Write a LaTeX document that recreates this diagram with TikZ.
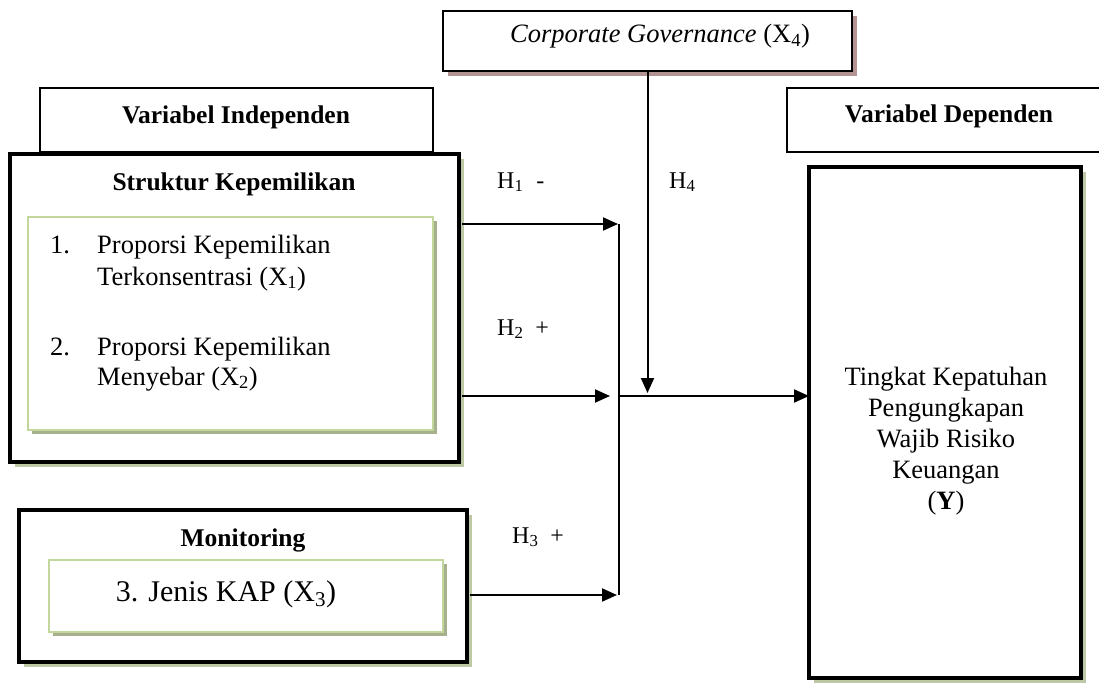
\documentclass[tikz,border=0pt]{standalone}
\usepackage{fontspec}
\setmainfont{Liberation Serif}
\usetikzlibrary{arrows.meta,shadows}
\definecolor{boxgreen}{HTML}{C3D69B}
\definecolor{greenshade}{HTML}{A6B08C}
\definecolor{paleshade}{HTML}{BFC8A6}
\definecolor{roseshade}{HTML}{B39494}

\begin{document}
\begin{tikzpicture}[x=1pt,y=-1pt,
  frame/.style={draw, line width=1.8pt, fill=white, inner sep=0pt, outer sep=0pt},
  heavy/.style={draw, line width=4pt, fill=white, inner sep=0pt, outer sep=0pt},
  itembox/.style={draw=boxgreen, line width=2pt, fill=white, inner sep=0pt, outer sep=0pt},
  shade/.style={drop shadow={shadow xshift=#1, shadow yshift=-#1, fill=paleshade, opacity=1}},
  greenshadow/.style={drop shadow={shadow xshift=4pt, shadow yshift=-4pt, fill=greenshade, opacity=1}},
  roseshadow/.style={drop shadow={shadow xshift=5pt, shadow yshift=-5pt, fill=roseshade, opacity=1}},
  bodytxt/.style={inner sep=0pt, font=\fontsize{26.5}{31}\selectfont},
  headtxt/.style={inner sep=0pt, font=\fontsize{25.5}{30}\selectfont\bfseries},
  bigtxt/.style={inner sep=0pt, font=\fontsize{30}{34}\selectfont},
  hyptxt/.style={inner sep=0pt, font=\fontsize{24}{28}\selectfont, anchor=base west},
  arr/.style={line width=2pt, -{Triangle[length=15pt,width=13pt]}},
]
\useasboundingbox (0,0) rectangle (1099,682);

% moderating variable
\node[frame, roseshadow, minimum width=409pt, minimum height=60pt] (cg) at (647.5,41) {};
\node[bodytxt, anchor=base] (cgtxt) at (660,43) {\textit{Corporate Governance} (X\textsubscript{4})};

% independent side
\node[frame, minimum width=393pt, minimum height=64pt] (vi) at (236.5,120) {};
\node[headtxt, anchor=base] (vitxt) at (236,124) {Variabel Independen};

\node[heavy, shade=5pt, minimum width=449pt, minimum height=308pt] (sk) at (234.5,308) {};
\node[headtxt, anchor=base] (sktxt) at (234,190) {Struktur Kepemilikan};
\node[itembox, greenshadow, minimum width=405pt, minimum height=213pt] (g1) at (230.5,323.5) {};
\node[bodytxt, anchor=base west] (n1) at (50,253) {1.};
\node[bodytxt, anchor=base west] (a1) at (97,253) {Proporsi Kepemilikan};
\node[bodytxt, anchor=base west] (b1) at (97,285) {Terkonsentrasi (X\textsubscript{1})};
\node[bodytxt, anchor=base west] (n2) at (50,355) {2.};
\node[bodytxt, anchor=base west] (a2) at (97,355) {Proporsi Kepemilikan};
\node[bodytxt, anchor=base west] (b2) at (97,385) {Menyebar (X\textsubscript{2})};

\node[heavy, shade=5pt, minimum width=448pt, minimum height=152pt] (mon) at (243,586) {};
\node[headtxt, anchor=base] (montxt) at (243,546) {Monitoring};
\node[itembox, greenshadow, minimum width=394pt, minimum height=72pt] (g3) at (246,596) {};
\node[bigtxt, anchor=base] (kap) at (226,601) {3. Jenis KAP (X\textsubscript{3})};

% dependent side
\node[frame, minimum width=323pt, minimum height=64pt] (vd) at (948.5,120) {};
\node[headtxt, anchor=base] (vdtxt) at (949,123) {Variabel Dependen};
\node[heavy, shade=5pt, minimum width=272pt, minimum height=511pt] (yb) at (945,422.5) {};
\node[bodytxt, anchor=base] (y1) at (946,385) {Tingkat Kepatuhan};
\node[bodytxt, anchor=base] (y2) at (946,416) {Pengungkapan};
\node[bodytxt, anchor=base] (y3) at (946,447) {Wajib Risiko};
\node[bodytxt, anchor=base] (y4) at (946,478) {Keuangan};
\node[bodytxt, anchor=base] (y5) at (946,509) {(\textbf{Y})};

% junction points
\coordinate (j1) at (619,224);
\coordinate (jm) at (619,396);
\coordinate (j3) at (619,595);

% connectors
\draw[line width=1.8pt] (j1) -- (j3);
\draw[arr, shorten <=3pt, shorten >=1pt] (sk.east |- j1) -- (j1);
\draw[arr, shorten <=3pt, shorten >=9pt] (sk.east |- jm) -- (jm);
\draw[arr, shorten <=3pt, shorten >=2pt] (mon.east |- j3) -- (j3);
\draw[arr, shorten >=3pt] (cg.south) -- (cg.south |- jm);
\draw[arr] (jm) -- (yb.west |- jm);

% hypothesis labels
\node[hyptxt] (h1) at (497,188) {H\textsubscript{1}\hspace{13pt}-};
\node[hyptxt] (h2) at (497,335) {H\textsubscript{2}\hspace{12pt}+};
\node[hyptxt] (h3) at (512,543) {H\textsubscript{3}\hspace{12pt}+};
\node[hyptxt] (h4) at (669,188) {H\textsubscript{4}};
\end{tikzpicture}
\end{document}
